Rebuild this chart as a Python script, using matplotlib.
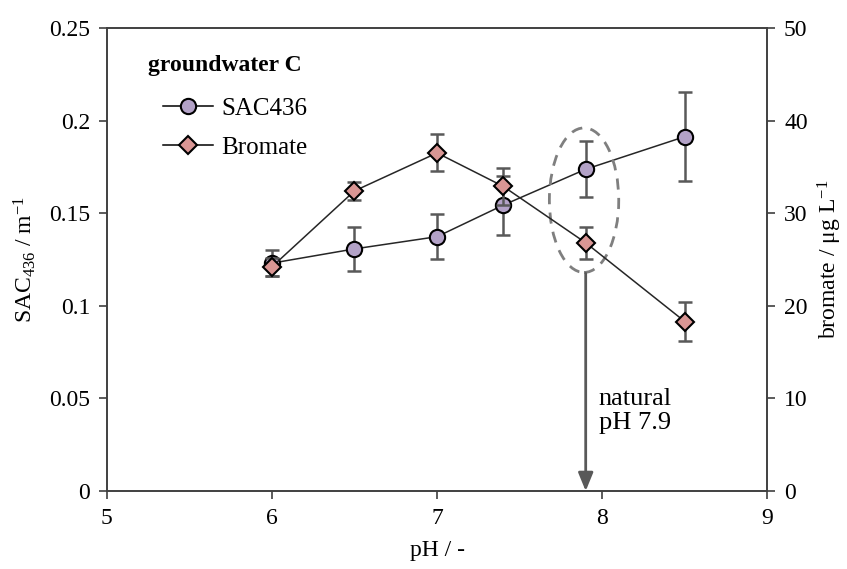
import matplotlib
matplotlib.use("Agg")
import matplotlib.pyplot as plt
from matplotlib.lines import Line2D
from matplotlib.patches import Ellipse

plt.rcParams['font.family'] = ['Liberation Serif', 'DejaVu Serif']
plt.rcParams['mathtext.fontset'] = 'custom'
plt.rcParams['mathtext.rm'] = 'Liberation Serif'
plt.rcParams['mathtext.it'] = 'Liberation Serif:italic'

# data
ph = [6.0, 6.5, 7.0, 7.4, 7.9, 8.5]
sac436 = [0.123, 0.1307, 0.1373, 0.1543, 0.1737, 0.1913]
sac436_err = [0.007, 0.012, 0.012, 0.016, 0.015, 0.024]
bromate = [24.2, 32.4, 36.5, 32.9, 26.8, 18.3]
bromate_err = [1.0, 1.0, 2.0, 2.0, 1.75, 2.1]
natural_ph = 7.9

sac_color = '#b3a2c7'
bro_color = '#d99694'
grey = '#595959'

fig = plt.figure(figsize=(8.47, 5.69), dpi=100)
ax = fig.add_axes([0.126, 0.137, 0.780, 0.814])
ax2 = ax.twinx()

ax.errorbar(ph, sac436, yerr=sac436_err, fmt='none', ecolor=grey,
            elinewidth=1.8, capsize=5, capthick=1.8, zorder=2)
ax.plot(ph, sac436, color='#262626', lw=1.1, marker='o', ms=11,
        mfc=sac_color, mec='black', mew=1.5, zorder=3)

ax2.errorbar(ph, bromate, yerr=bromate_err, fmt='none', ecolor=grey,
             elinewidth=1.8, capsize=5, capthick=1.8, zorder=2)
ax2.plot(ph, bromate, color='#262626', lw=1.1, marker='D', ms=9,
         mfc=bro_color, mec='black', mew=1.5, zorder=3)

# natural pH marker: dashed ellipse + arrow
ell = Ellipse((7.89, 0.157), 0.42, 0.078, fill=False, ls=(0, (4, 3)),
              lw=2, ec='#7f7f7f', zorder=4)
ax.add_patch(ell)
ax.annotate('', xy=(natural_ph, 0.0), xytext=(natural_ph, 0.1175),
            arrowprops=dict(arrowstyle='-|>,head_length=1.1,head_width=0.45',
                            color=grey, lw=2, shrinkA=0, shrinkB=0), zorder=4)
ax.text(natural_ph + 0.08, 0.031, 'natural\npH 7.9', fontsize=19,
        ha='left', va='bottom', linespacing=1.1)

ax.set_xlim(5, 9)
ax.set_ylim(0, 0.25)
ax2.set_ylim(0, 50)
ax.set_xticks([5, 6, 7, 8, 9])
ax.set_yticks([0, 0.05, 0.1, 0.15, 0.2, 0.25])
ax.set_yticklabels(['0', '0.05', '0.1', '0.15', '0.2', '0.25'])
ax2.set_yticks([0, 10, 20, 30, 40, 50])

for a in (ax, ax2):
    a.tick_params(direction='out', length=6, width=1.2, labelsize=17,
                  color='#404040', pad=6)
    for s in a.spines.values():
        s.set_color('#404040')
        s.set_linewidth(1.2)
ax.tick_params(axis='x', pad=6)

ax.set_xlabel('pH / -', fontsize=17, labelpad=8)
ax.set_ylabel(r'SAC$_{\mathrm{436}}$ / m$^{\mathrm{-1}}$', fontsize=17, labelpad=8)
ax2.set_ylabel(r'bromate / $\mathrm{\mu}$g L$^{\mathrm{-1}}$', fontsize=17, labelpad=6)

ax.text(0.062, 0.918, 'groundwater C', transform=ax.transAxes, fontsize=17,
        fontweight='bold', ha='left', va='center')

handles = [
    Line2D([], [], color='black', lw=1.1, marker='o', ms=11, mfc=sac_color,
           mec='black', mew=1.5),
    Line2D([], [], color='black', lw=1.1, marker='D', ms=9, mfc=bro_color,
           mec='black', mew=1.5),
]
ax.legend(handles, ['SAC436', 'Bromate'], loc='center left',
          bbox_to_anchor=(0.085, 0.784), frameon=False, fontsize=18,
          borderpad=0, borderaxespad=0, handlelength=2.0,
          handletextpad=0.35, labelspacing=0.65)

fig.savefig('out.png', dpi=100)
